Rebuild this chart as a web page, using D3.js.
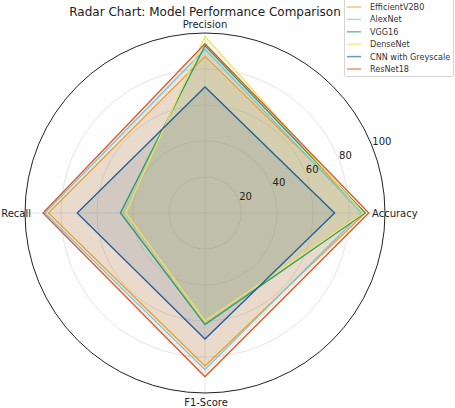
<!DOCTYPE html>
<html><head><meta charset="utf-8">
<script src="https://cdn.jsdelivr.net/npm/d3@7"></script>
<style>body{margin:0;background:#fff}svg{display:block;font-family:"DejaVu Sans",sans-serif}</style>
</head><body><svg id="c" width="455" height="408"></svg>
<script>
const axesNames = ["Accuracy", "Precision", "Recall", "F1-Score"];
const models = ["EfficientV2B0", "AlexNet", "VGG16", "DenseNet", "CNN with Greyscale", "ResNet18"];
const efficient = [89, 87, 87, 85];
const alexnet = [87, 91, 89, 87];
const vgg16 = [89, 93, 47, 62];
const densenet = [88, 98, 44, 60];
const cnnGrey = [72, 70, 71, 70];
const resnet18 = [91, 94, 90, 91];
const seriesValues = [efficient, alexnet, vgg16, densenet, cnnGrey, resnet18];
const colors = ["#efa031", "#78c6de", "#2a9d70", "#ece15a", "#1f5f9c", "#dc5a2c"];
const radialTicks = [20, 40, 60, 80, 100];

const svg = d3.select("#c");
const cx = 205, cy = 213, R = 180;
const r = d3.scaleLinear().domain([0, 100]).range([0, R]);
const angle = d3.scalePoint().domain(axesNames).range([0, 2 * Math.PI * 3 / 4]);
const px = (name, v) => cx + r(v) * Math.cos(angle(name));
const py = (name, v) => cy - r(v) * Math.sin(angle(name));

svg.append("g").selectAll("circle").data(radialTicks.slice(0, -1)).join("circle")
  .attr("cx", cx).attr("cy", cy).attr("r", d => r(d))
  .attr("fill", "none").attr("stroke", "#e4e4e4").attr("stroke-width", 1);
svg.append("g").selectAll("line").data(axesNames).join("line")
  .attr("x1", cx).attr("y1", cy)
  .attr("x2", d => px(d, 100)).attr("y2", d => py(d, 100))
  .attr("stroke", "#e4e4e4").attr("stroke-width", 1);

const lineGen = d3.line().x(d => d[0]).y(d => d[1]).curve(d3.curveLinearClosed);
const g = svg.append("g");
seriesValues.forEach((vals, i) => {
  const pts = axesNames.map((n, k) => [px(n, vals[k]), py(n, vals[k])]);
  g.append("path").attr("d", lineGen(pts))
    .attr("fill", colors[i]).attr("fill-opacity", 0.13).attr("stroke", "none");
});
seriesValues.forEach((vals, i) => {
  const pts = axesNames.map((n, k) => [px(n, vals[k]), py(n, vals[k])]);
  g.append("path").attr("d", lineGen(pts))
    .attr("fill", "none").attr("stroke", colors[i]).attr("stroke-width", 1.3)
    .attr("stroke-linejoin", "miter");
});

svg.append("circle").attr("cx", cx).attr("cy", cy).attr("r", R)
  .attr("fill", "none").attr("stroke", "#222").attr("stroke-width", 1);

const la = Math.PI / 8;
svg.append("g").selectAll("text").data(radialTicks).join("text")
  .attr("x", d => cx + r(d) * Math.cos(la) + 1)
  .attr("y", d => cy - r(d) * Math.sin(la) + 1)
  .attr("font-size", 10).attr("fill", "#222")
  .text(d => d);

const lab = svg.append("g").attr("font-size", 10).attr("fill", "#222");
lab.append("text").attr("x", 205).attr("y", 28).attr("text-anchor", "middle").text(axesNames[1]);
lab.append("text").attr("x", 372).attr("y", 217).attr("text-anchor", "start").text(axesNames[0]);
lab.append("text").attr("x", 31).attr("y", 217).attr("text-anchor", "end").text(axesNames[2]);
lab.append("text").attr("x", 206).attr("y", 406).attr("text-anchor", "middle").text(axesNames[3]);

svg.append("text").attr("x", 205).attr("y", 16).attr("text-anchor", "middle")
  .attr("font-size", 12).attr("fill", "#222").text("Radar Chart: Model Performance Comparison");

const lg = svg.append("g");
lg.append("rect").attr("x", 344.5).attr("y", -4).attr("width", 109).attr("height", 80.5)
  .attr("rx", 2).attr("fill", "#fff").attr("fill-opacity", 0.85).attr("stroke", "#d5d5d5");
const ly = d3.scaleLinear().domain([0, 5]).range([7, 69]);
models.forEach((m, i) => {
  lg.append("line").attr("x1", 347).attr("x2", 361).attr("y1", ly(i)).attr("y2", ly(i))
    .attr("stroke", colors[i]).attr("stroke-width", 1.5).attr("stroke-opacity", 0.65);
  lg.append("text").attr("x", 370).attr("y", ly(i) + 3).attr("font-size", 8.1)
    .attr("fill", "#333").text(m);
});
</script></body></html>
